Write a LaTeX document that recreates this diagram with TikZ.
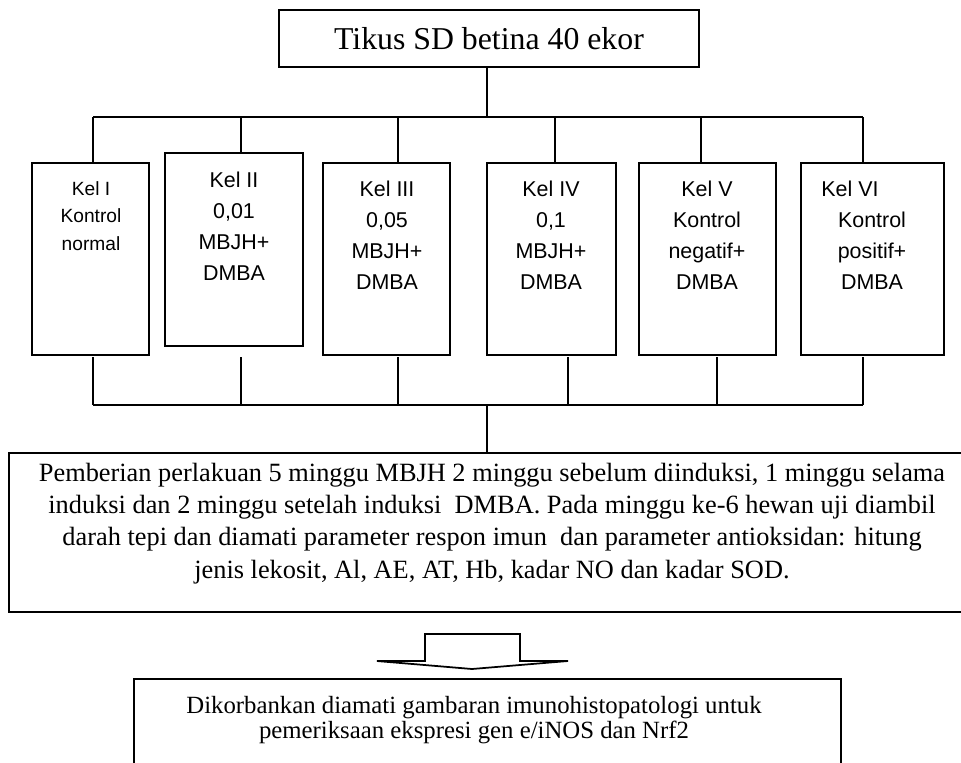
\documentclass[tikz,border=0pt]{standalone}
\usepackage{fontspec}
\setmainfont{Liberation Serif}
\setsansfont{Liberation Sans}
\tikzset{
    kelbox/.style={draw,line width=1pt,inner sep=0pt},
    keltext/.style={font=\sffamily\fontsize{12.2}{17.6}\selectfont,align=center,inner sep=0pt},
    infobox/.style={draw,line width=1pt,inner sep=0pt,align=center},
    conn/.style={line width=0.8pt}
}
\begin{document}
\begin{tikzpicture}[x=0.02cm,y=-0.02cm]
    \useasboundingbox (0,0) rectangle (961,762);
    %top box
    \node[infobox,minimum width=8.4cm,minimum height=1.14cm,font=\fontsize{18.1}{21}\selectfont] (tikus) at (489,38.5) {Tikus SD betina 40 ekor};
    %groups
    \node[kelbox,minimum width=2.34cm,minimum height=3.84cm] (k1) at (90.5,259) {};
    \node[kelbox,minimum width=2.76cm,minimum height=3.86cm] (k2) at (234,249.5) {};
    \node[kelbox,minimum width=2.54cm,minimum height=3.84cm] (k3) at (386.5,259) {};
    \node[kelbox,minimum width=2.58cm,minimum height=3.84cm] (k4) at (551.5,259) {};
    \node[kelbox,minimum width=2.74cm,minimum height=3.84cm] (k5) at (707.5,259) {};
    \node[kelbox,minimum width=2.86cm,minimum height=3.84cm] (k6) at (872.5,259) {};
    \node[keltext,font=\sffamily\fontsize{10.9}{15.6}\selectfont] (k1t) at (91,216) {Kel I\\Kontrol\\normal};
    \node[keltext] (k2t) at (234,226.5) {Kel II\\0,01\\MBJH+\\DMBA};
    \node[keltext] (k3t) at (387,235.5) {Kel III\\0,05\\MBJH+\\DMBA};
    \node[keltext] (k4t) at (551,235.5) {Kel IV\\0,1\\MBJH+\\DMBA};
    \node[keltext] (k5t) at (707,235.5) {Kel V\\Kontrol\\negatif+\\DMBA};
    \node[keltext] (k6t) at (872,235.5) {Kel VI\hspace*{0.88cm}\\Kontrol\\positif+\\DMBA};
    %treatment box
    \node[kelbox,minimum width=19.32cm,minimum height=3.18cm] (beri) at (492,532.5) {};
    \node[align=center,inner sep=0pt,font=\fontsize{15}{18.1}\selectfont] (berit) at (492,524)
        {Pemberian perlakuan 5 minggu MBJH 2 minggu sebelum diinduksi, 1 minggu selama\\
         induksi dan 2 minggu setelah induksi\ \ DMBA. Pada minggu ke-6 hewan uji diambil\\
         darah tepi dan diamati parameter respon imun\ \ dan parameter antioksidan: hitung\\[1pt]
         jenis lekosit, Al, AE, AT, Hb, kadar NO dan kadar SOD.};
    %last box
    \node[kelbox,minimum width=14.14cm,minimum height=2.4cm,anchor=north east] (korban) at (842,678) {};
    \node[align=center,inner sep=0pt,font=\fontsize{14.1}{12.6}\selectfont] (korbant) at (474,720)
        {Dikorbankan diamati gambaran imunohistopatologi untuk\\pemeriksaan ekspresi gen e/iNOS dan Nrf2};
    %draw lines
    \coordinate (tb) at (487,117);
    \coordinate (tbl) at (93,117);
    \coordinate (tbr) at (863,117);
    \coordinate (bb) at (487,405);
    \coordinate (bbl) at (93,405);
    \coordinate (bbr) at (863,405);
    \draw[conn] (tb |- tikus.south) -- (tb);
    \draw[conn] (tbl) -- (tbr);
    \foreach \i/\x in {1/93,2/241,3/398,4/555,5/701,6/863}
        \draw[conn] (\x,117) -- (\x,0 |- k\i.north);
    \foreach \x in {93,241,398,568,717,863}
        \draw[conn] (\x,357) -- (\x,0 |- bbl);
    \draw[conn] (bbl) -- (bbr);
    \draw[conn] (bb) -- (bb |- beri.north);
    %hollow arrow
    \draw[line width=1pt] (425,661) -- (425,634) -- (520,634) -- (520,661) -- (568,661) -- (472,669) -- (377,661) -- cycle;
\end{tikzpicture}
\end{document}
